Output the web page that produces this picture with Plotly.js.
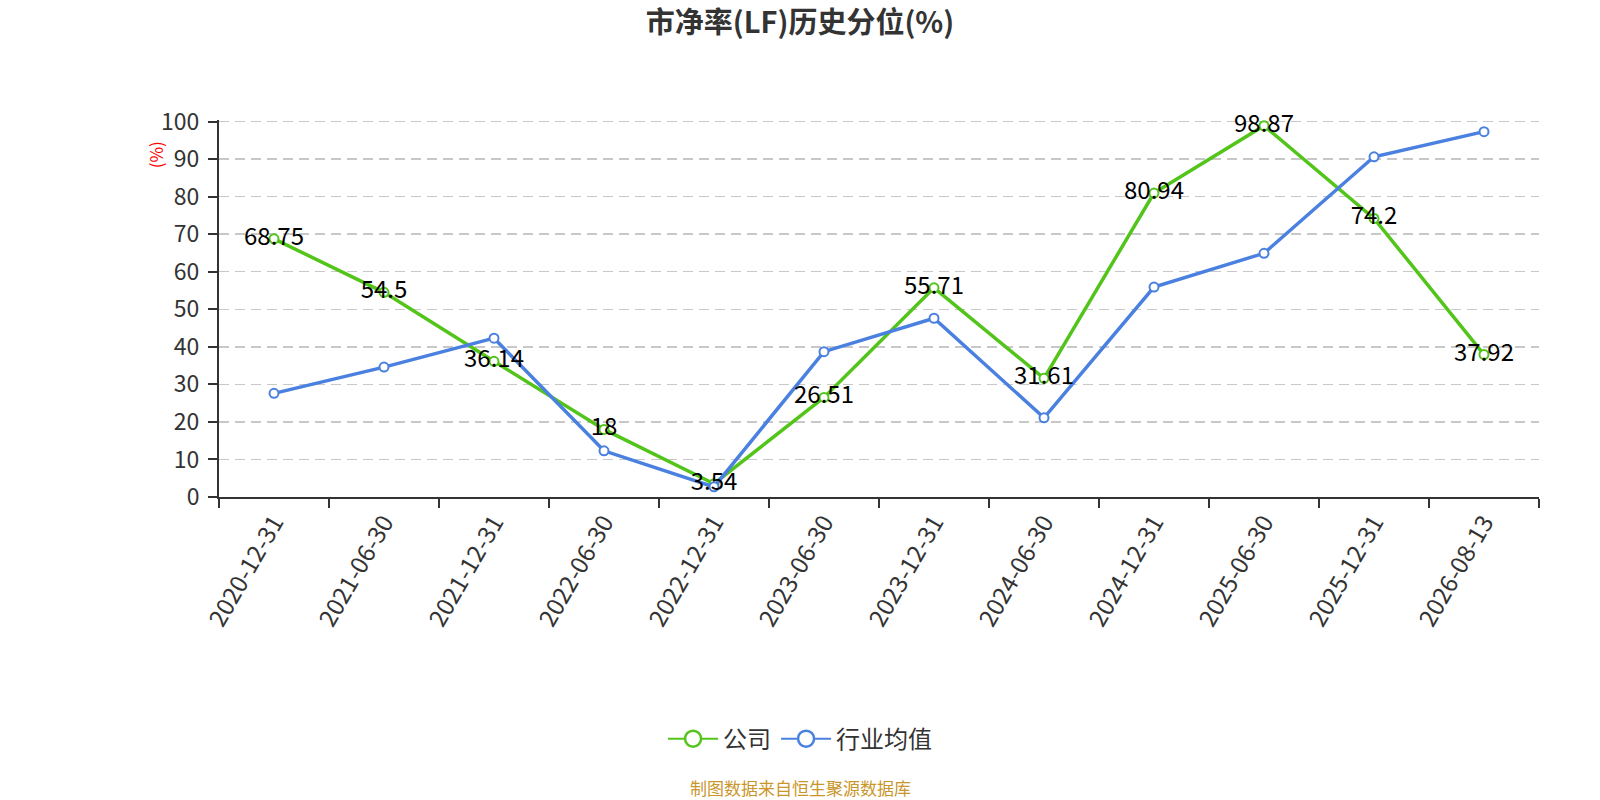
<!DOCTYPE html>
<html>
<head>
<meta charset="utf-8">
<script src="https://cdn.plot.ly/plotly-3.0.1.min.js"></script>
<style>
  html, body { margin: 0; padding: 0; background: #fff; }
  #chart { width: 1600px; height: 800px; }
</style>
</head>
<body>
<div id="chart"></div>
<script>
const dates = [
  "2020-12-31", "2021-06-30", "2021-12-31", "2022-06-30",
  "2022-12-31", "2023-06-30", "2023-12-31", "2024-06-30",
  "2024-12-31", "2025-06-30", "2025-12-31", "2026-08-13",
];
const company = [68.75, 54.5, 36.14, 18, 3.54, 26.51, 55.71, 31.61, 80.94, 98.87, 74.2, 37.92];
const industry = [27.6, 34.6, 42.3, 12.3, 2.7, 38.7, 47.6, 21.1, 55.9, 64.9, 90.6, 97.3];

const GREEN = "#52c41a";
const BLUE = "#4a80e0";
const FONT = "Noto Sans CJK SC, Noto Sans, sans-serif";

function lineTrace(name, y, color) {
  return {
    x: dates,
    y: y,
    name: name,
    type: "scatter",
    mode: "lines+markers",
    line: { color: color, width: 3.5 },
    marker: { size: 9, color: "#fff", line: { color: color, width: 2 } },
    cliponaxis: false,
    showlegend: false,
    hoverinfo: "skip",
  };
}

// legend-only entries with the larger ring symbol
function legendEntry(name, color) {
  return {
    x: [null],
    y: [null],
    name: name,
    type: "scatter",
    mode: "lines+markers",
    line: { color: color, width: 2 },
    marker: { size: 22, color: "#fff", line: { color: color, width: 2.5 } },
    hoverinfo: "skip",
  };
}

const traces = [
  lineTrace("公司", company, GREEN),
  lineTrace("行业均值", industry, BLUE),
  {
    x: dates,
    y: company,
    text: company.map(String),
    type: "scatter",
    mode: "text",
    textposition: "middle center",
    textfont: { family: FONT, size: 24, color: "#000" },
    cliponaxis: false,
    showlegend: false,
    hoverinfo: "skip",
  },
  legendEntry("公司", GREEN),
  legendEntry("行业均值", BLUE),
];

const layout = {
  width: 1600,
  height: 800,
  margin: { l: 219, r: 61, t: 119.5, b: 303 },
  paper_bgcolor: "#fff",
  plot_bgcolor: "#fff",
  font: { family: FONT, color: "#333" },
  title: {
    text: "市净率(LF)历史分位(%)",
    font: { family: FONT, size: 29, color: "#333", weight: "bold" },
    xref: "container",
    x: 0.5,
    xanchor: "center",
    yref: "container",
    y: 0.971,
    yanchor: "middle",
  },
  xaxis: {
    type: "category",
    range: [-0.5, 11.5],
    tickson: "boundaries",
    ticks: "outside",
    ticklen: 9,
    tickwidth: 2,
    tickcolor: "#333",
    showline: true,
    linecolor: "#333",
    linewidth: 2,
    showgrid: false,
    tickangle: -60,
    tickfont: { family: FONT, size: 24, color: "#333" },
    fixedrange: true,
  },
  yaxis: {
    range: [0, 100.4],
    tickvals: [0, 10, 20, 30, 40, 50, 60, 70, 80, 90, 100],
    ticks: "outside",
    ticklen: 9,
    tickwidth: 2,
    tickcolor: "#333",
    showline: true,
    linecolor: "#333",
    linewidth: 2,
    showgrid: true,
    gridcolor: "#c8c8c8",
    gridwidth: 1.5,
    griddash: "10px,6px",
    zeroline: false,
    tickfont: { family: FONT, size: 23, color: "#333" },
    ticklabelstandoff: 4,
    fixedrange: true,
  },
  legend: {
    orientation: "h",
    x: 0.4402,
    xanchor: "center",
    y: -0.642,
    yanchor: "middle",
    font: { family: FONT, size: 24, color: "#333" },
    itemwidth: 50,
  },
  annotations: [
    {
      text: "(%)",
      xref: "paper",
      yref: "paper",
      x: -0.0485,
      y: 0.909,
      xanchor: "center",
      yanchor: "middle",
      textangle: -90,
      showarrow: false,
      font: { family: FONT, size: 17, color: "#ff0000" },
    },
    {
      text: "制图数据来自恒生聚源数据库",
      xref: "paper",
      yref: "paper",
      x: 0.4402,
      y: -0.77,
      xanchor: "center",
      yanchor: "middle",
      showarrow: false,
      font: { family: FONT, size: 17, color: "#c9962b" },
    },
  ],
  hovermode: false,
};

Plotly.newPlot("chart", traces, layout, { staticPlot: true, displayModeBar: false });
</script>
</body>
</html>
